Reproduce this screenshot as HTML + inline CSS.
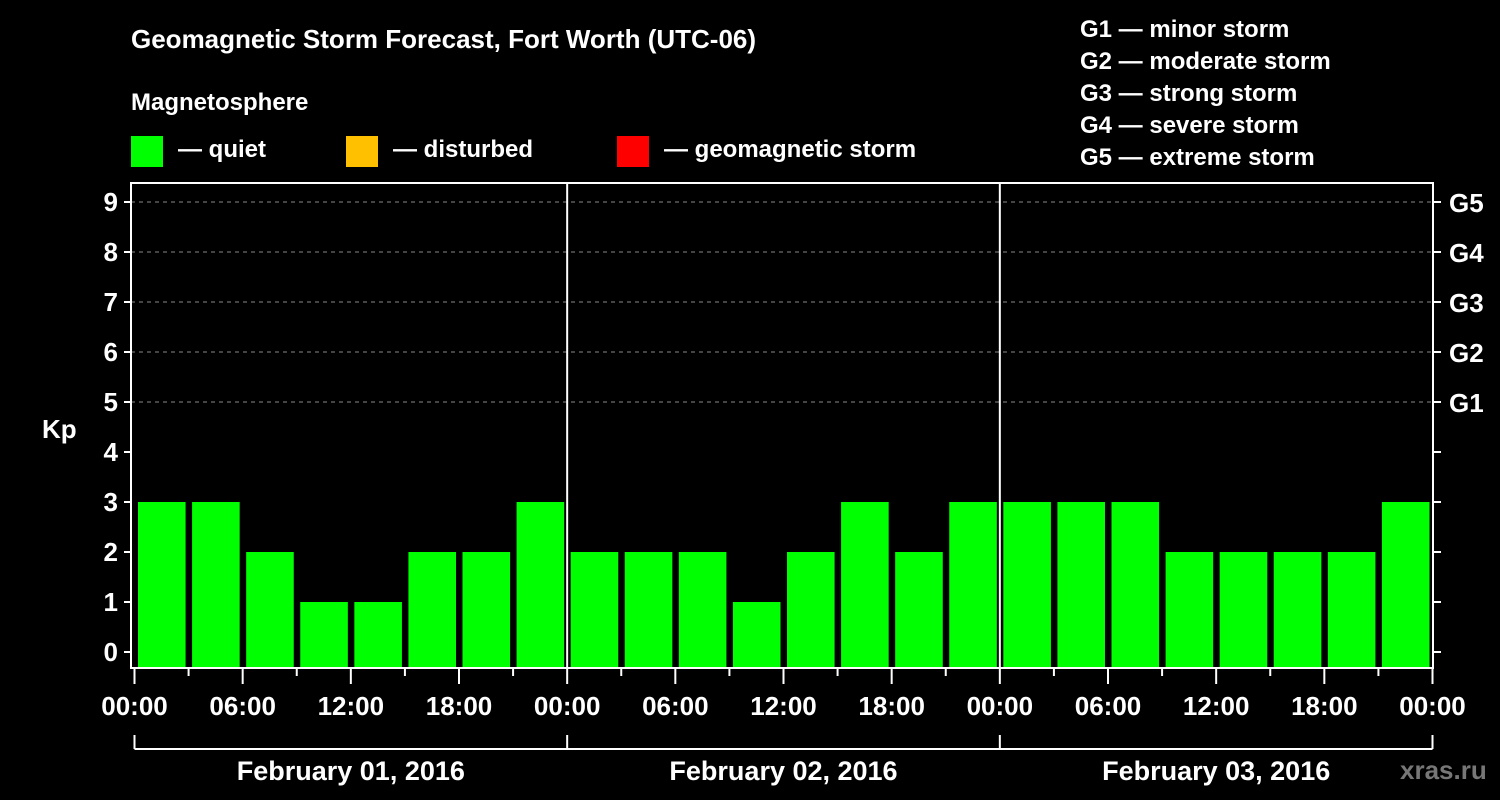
<!DOCTYPE html>
<html><head><meta charset="utf-8">
<style>
html,body{margin:0;padding:0;background:#000;}
svg{display:block;font-family:"Liberation Sans",Arial,sans-serif;font-weight:bold;}
</style></head>
<body>
<svg id="chart" width="1500" height="800" viewBox="0 0 1500 800">
<rect width="1500" height="800" fill="#000"/>
<text x="131" y="48" fill="#fff" font-size="26">Geomagnetic Storm Forecast, Fort Worth (UTC-06)</text>
<text x="131" y="110" fill="#fff" font-size="24">Magnetosphere</text>
<rect x="131" y="136" width="32" height="31" fill="#00ff00"/>
<text x="178" y="157" fill="#fff" font-size="24">— quiet</text>
<rect x="346" y="136" width="32" height="31" fill="#ffc000"/>
<text x="393" y="157" fill="#fff" font-size="24">— disturbed</text>
<rect x="617" y="136" width="32" height="31" fill="#ff0000"/>
<text x="664" y="157" fill="#fff" font-size="24">— geomagnetic storm</text>
<g fill="#fff" font-size="24">
<text x="1080" y="37">G1 — minor storm</text>
<text x="1080" y="69">G2 — moderate storm</text>
<text x="1080" y="101">G3 — strong storm</text>
<text x="1080" y="133">G4 — severe storm</text>
<text x="1080" y="165">G5 — extreme storm</text>
</g>
<text x="42" y="438" fill="#fff" font-size="26">Kp</text>
<text x="1400" y="779" fill="#777" font-size="26">xras.ru</text>
<g id="grid"></g><g id="bars"></g><g id="axes"></g>
</svg>
<script>
const kpValues = [3,3,2,1,1,2,2,3, 2,2,2,1,2,3,2,3, 3,3,3,2,2,2,2,3];
const yTicks = [0,1,2,3,4,5,6,7,8,9];
const gLabels = ["G1","G2","G3","G4","G5"];
const gLevels = [5,6,7,8,9];
const timeLabels = ["00:00","06:00","12:00","18:00","00:00","06:00","12:00","18:00","00:00","06:00","12:00","18:00","00:00"];
const dayLabels = ["February 01, 2016","February 02, 2016","February 03, 2016"];

const NS="http://www.w3.org/2000/svg";
const L=131,R=1433,T=183,B=668;
const x0=134.5,x1=1432.5;
const xs=h=>x0+(x1-x0)*h/72;
const ys=v=>652-50*v;
function mk(p,tag,a){const e=document.createElementNS(NS,tag);for(const k in a)e.setAttribute(k,a[k]);p.appendChild(e);return e;}
const grid=document.getElementById('grid'),bars=document.getElementById('bars'),axes=document.getElementById('axes');
gLevels.forEach(v=>{
 const l=mk(grid,'line',{x1:L,x2:R,y1:ys(v),y2:ys(v),stroke:'#888','stroke-width':1,'stroke-dasharray':'4,4'});
 
 
});
const slot=(x1-x0)/kpValues.length;
kpValues.forEach((v,i)=>{
 const xa=xs(i*3)+3.5, xb=xs(i*3+3)-3;
 const r=mk(bars,'rect',{x:xa,y:ys(v),width:xb-xa,height:B-ys(v),fill:v>=5?'#ff0000':(v>=4?'#ffc000':'#00ff00')});
 
 
});
// frame
mk(axes,'rect',{x:L,y:T,width:R-L,height:B-T,fill:'none',stroke:'#fff','stroke-width':2});
[24,48].forEach(h=>{const l=mk(axes,'line',{x1:xs(h),x2:xs(h),y1:T,y2:B,stroke:'#fff','stroke-width':2});
 
 });
yTicks.forEach(v=>{
 mk(axes,'line',{x1:L-7,x2:L,y1:ys(v),y2:ys(v),stroke:'#fff','stroke-width':2});
 mk(axes,'line',{x1:R,x2:R+8,y1:ys(v),y2:ys(v),stroke:'#fff','stroke-width':2});
 const t=mk(axes,'text',{x:L-13,y:ys(v)+9,fill:'#fff','font-size':26,'text-anchor':'end'});
 t.textContent=v;
 
 
});
gLevels.forEach((v,i)=>{
 const t=mk(axes,'text',{x:1449,y:ys(v)+10,fill:'#fff','font-size':26});
 t.textContent=gLabels[i];
 
 
});
for(let h=0;h<=72;h+=3){
 const major=h%6===0;
 mk(axes,'line',{x1:xs(h),x2:xs(h),y1:B,y2:B+(major?16:8),stroke:'#fff','stroke-width':2});
}
timeLabels.forEach((s,i)=>{
 const t=mk(axes,'text',{x:xs(i*6),y:715,fill:'#fff','font-size':26,'text-anchor':'middle'});
 t.textContent=s;
 
 
});
mk(axes,'line',{x1:xs(0),x2:xs(72),y1:749,y2:749,stroke:'#fff','stroke-width':2});
for(let d=0;d<=3;d++)mk(axes,'line',{x1:xs(d*24),x2:xs(d*24),y1:735,y2:749,stroke:'#fff','stroke-width':2});
dayLabels.forEach((s,i)=>{
 const t=mk(axes,'text',{x:xs(i*24+12),y:780,fill:'#fff','font-size':27,'text-anchor':'middle'});
 t.textContent=s;
 
 
});
</script>
</body></html>
